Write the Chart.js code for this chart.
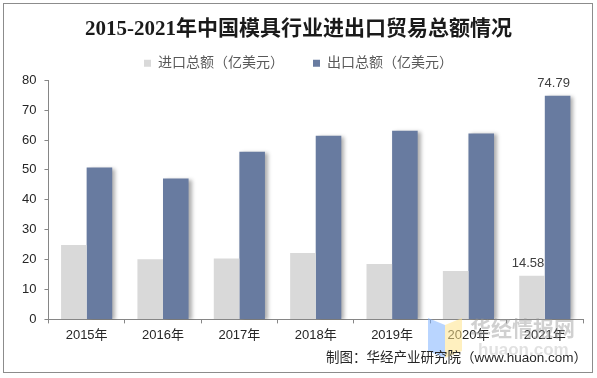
<!DOCTYPE html>
<html>
<head>
<meta charset="utf-8">
<script src="https://cdn.jsdelivr.net/npm/chart.js@4/dist/chart.umd.min.js"></script>
<style>
  html, body { margin: 0; padding: 0; background: #fff; }
  #wrap { width: 597px; height: 378px; }
</style>
</head>
<body>
<div id="wrap"><canvas id="c" width="597" height="378"></canvas></div>
<script>
const titleText = '2015-2021年中国模具行业进出口贸易总额情况';
const categories = ['2015年', '2016年', '2017年', '2018年', '2019年', '2020年', '2021年'];
const seriesNames = ['进口总额（亿美元）', '出口总额（亿美元）'];
const importValues = [24.9, 20.1, 20.4, 22.2, 18.5, 16.2, 14.58];
const exportValues = [50.8, 47.1, 56.1, 61.4, 63.1, 62.2, 74.79];
const yTicks = [0, 10, 20, 30, 40, 50, 60, 70, 80];
const labelIndices = [6];
const sourceText = '制图：华经产业研究院（www.huaon.com）';
const watermarkText = '华经情报网';
const watermarkSub = 'huaon.com';

const CJK = '"Liberation Sans", Arial, "Noto Sans CJK SC", sans-serif';

const framePlugin = {
  id: 'frame',
  beforeDraw(chart) {
    const ctx = chart.ctx;
    ctx.save();
    ctx.fillStyle = '#ffffff';
    ctx.fillRect(0, 0, chart.width, chart.height);
    ctx.strokeStyle = '#8c8c8c';
    ctx.lineWidth = 1;
    ctx.strokeRect(3.5, 3.5, 589, 369);
    ctx.restore();
  }
};

const shadowPlugin = {
  id: 'barShadow',
  beforeDatasetDraw(chart, args) {
    if (args.index !== 1) return;
    const ctx = chart.ctx;
    ctx.save();
    ctx.shadowColor = 'rgba(0,0,0,0.32)';
    ctx.shadowOffsetX = 3;
    ctx.shadowOffsetY = 1;
    ctx.shadowBlur = 4;
  },
  afterDatasetDraw(chart, args) {
    if (args.index !== 1) return;
    chart.ctx.restore();
  }
};

const labelPlugin = {
  id: 'valueLabels',
  afterDatasetsDraw(chart) {
    const ctx = chart.ctx;
    ctx.save();
    ctx.font = '13px ' + CJK;
    ctx.fillStyle = '#404040';
    ctx.textAlign = 'center';
    ctx.textBaseline = 'bottom';
    chart.data.datasets.forEach((ds, di) => {
      const meta = chart.getDatasetMeta(di);
      labelIndices.forEach(i => {
        const el = meta.data[i];
        ctx.fillText(String(ds.data[i]), el.x - 4, el.y - 6);
      });
    });
    ctx.restore();
  }
};

const footerPlugin = {
  id: 'footer',
  afterDraw(chart) {
    const ctx = chart.ctx;
    ctx.save();
    // watermark logo shapes
    ctx.globalAlpha = 0.55;
    ctx.fillStyle = '#7fb2ff';
    ctx.beginPath();
    ctx.moveTo(428, 318); ctx.lineTo(445, 325); ctx.lineTo(445, 358); ctx.lineTo(428, 351);
    ctx.closePath(); ctx.fill();
    ctx.fillStyle = '#ffe38a';
    ctx.beginPath();
    ctx.moveTo(445, 325); ctx.lineTo(462, 318); ctx.lineTo(462, 351); ctx.lineTo(445, 358);
    ctx.closePath(); ctx.fill();
    ctx.globalAlpha = 1;
    // watermark text
    ctx.fillStyle = 'rgba(150,150,150,0.45)';
    ctx.font = 'bold 21px "Noto Sans CJK SC", sans-serif';
    ctx.textAlign = 'left';
    ctx.textBaseline = 'middle';
    ctx.fillText(watermarkText, 470, 328);
    ctx.fillStyle = 'rgba(170,170,170,0.35)';
    ctx.font = 'bold 17px ' + CJK;
    ctx.fillText(watermarkSub, 478, 350);
    // source text
    ctx.fillStyle = '#262626';
    ctx.font = '13.5px ' + CJK;
    ctx.textAlign = 'right';
    ctx.textBaseline = 'middle';
    ctx.fillText(sourceText, 587, 358);
    ctx.restore();
  }
};

new Chart(document.getElementById('c'), {
  type: 'bar',
  data: {
    labels: categories,
    datasets: [
      { label: seriesNames[0], data: importValues, backgroundColor: '#d9d9d9', borderWidth: 0,
        barPercentage: 1, categoryPercentage: 0.67 },
      { label: seriesNames[1], data: exportValues, backgroundColor: '#687ba0', borderWidth: 0,
        barPercentage: 1, categoryPercentage: 0.67 }
    ]
  },
  options: {
    responsive: false,
    animation: false,
    devicePixelRatio: 1,
    layout: { padding: { left: 14, right: 14, top: 0, bottom: 31 } },
    plugins: {
      title: {
        display: true,
        text: titleText,
        color: '#1a1a1a',
        font: { family: '"Liberation Serif", "Noto Sans CJK SC", serif', size: 21, weight: 'bold' },
        padding: { top: 17, bottom: -15 }
      },
      legend: {
        display: true,
        position: 'top',
        labels: {
          boxWidth: 7,
          boxHeight: 7,
          padding: 29,
          color: '#595959',
          font: { family: CJK, size: 14 }
        }
      },
      tooltip: { enabled: false }
    },
    scales: {
      x: {
        grid: { display: true, drawOnChartArea: false, drawTicks: true, tickLength: 4, color: '#868686', offset: true },
        border: { display: true, color: '#868686' },
        ticks: { color: '#262626', font: { family: CJK, size: 13 }, padding: 4, maxRotation: 0 }
      },
      y: {
        min: 0,
        max: 80,
        afterBuildTicks(scale) { scale.ticks = yTicks.map(v => ({ value: v })); },
        grid: { display: true, drawOnChartArea: false, drawTicks: true, tickLength: 4, color: '#868686' },
        border: { display: true, color: '#868686' },
        ticks: { color: '#262626', font: { family: CJK, size: 13 }, padding: 8 }
      }
    }
  },
  plugins: [framePlugin, shadowPlugin, labelPlugin, footerPlugin]
});
</script>
</body>
</html>
